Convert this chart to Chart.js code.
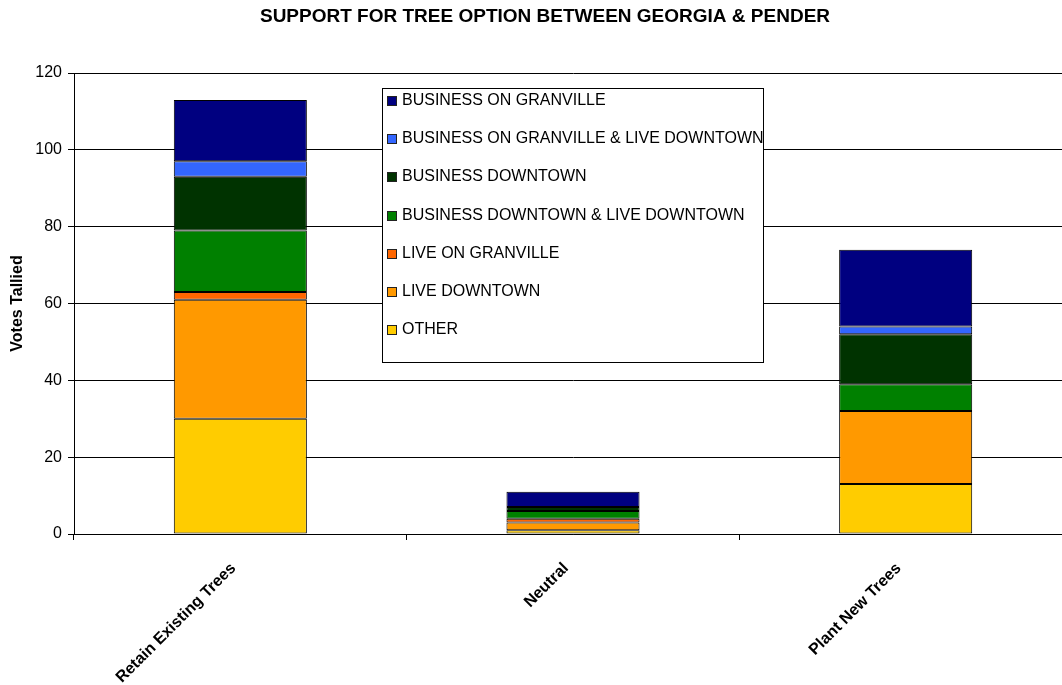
<!DOCTYPE html>
<html>
<head>
<meta charset="utf-8">
<script src="https://cdn.jsdelivr.net/npm/chart.js@4/dist/chart.umd.min.js"></script>
<style>
  html, body { margin: 0; padding: 0; background: #fff; overflow: hidden; }
  #wrap { width: 1062px; height: 685px; overflow: hidden; }
</style>
</head>
<body>
<div id="wrap"><canvas id="treeChart" width="1072" height="685"></canvas></div>
<script>
// =========================
// TREE OPTION SUPPORT - STACKED BARS
// =========================

var chartTitle = "SUPPORT FOR TREE OPTION BETWEEN GEORGIA & PENDER";
var options = ["Retain Existing Trees", "Neutral", "Plant New Trees"];
var yTicks = [0, 20, 40, 60, 80, 100, 120];

// stacked from the bottom up
var other = [30, 1, 13];
var liveDowntown = [31, 2, 19];
var liveOnGranville = [2, 1, 0];
var businessDowntownLiveDowntown = [16, 2, 7];
var businessDowntown = [14, 1, 13];
var businessGranvilleLiveDowntown = [4, 0, 2];
var businessOnGranville = [16, 4, 20];

var groupNames = [
  "OTHER",
  "LIVE DOWNTOWN",
  "LIVE ON GRANVILLE",
  "BUSINESS DOWNTOWN & LIVE DOWNTOWN",
  "BUSINESS DOWNTOWN",
  "BUSINESS ON GRANVILLE & LIVE DOWNTOWN",
  "BUSINESS ON GRANVILLE"
];
var groupValues = [
  other,
  liveDowntown,
  liveOnGranville,
  businessDowntownLiveDowntown,
  businessDowntown,
  businessGranvilleLiveDowntown,
  businessOnGranville
];
var groupColors = ["#FFCC00", "#FF9900", "#FF6600", "#008000", "#003300", "#3366FF", "#000080"];

var FONT = "Arial, 'Liberation Sans', sans-serif";

var datasets = groupNames.map(function (name, i) {
  return {
    label: name,
    data: groupValues[i],
    backgroundColor: groupColors[i],
    borderColor: "#000",
    borderWidth: 1,
    borderSkipped: false,
    barPercentage: 0.4,
    categoryPercentage: 1
  };
});

// title drawn by hand so it can sit a bit right of the canvas centre
var topTitle = {
  id: "topTitle",
  afterDraw: function (chart) {
    var ctx = chart.ctx;
    ctx.save();
    ctx.font = "bold 19px " + FONT;
    ctx.fillStyle = "#000";
    ctx.textAlign = "center";
    ctx.textBaseline = "middle";
    ctx.fillText(chartTitle, 545, 17);
    ctx.restore();
  }
};

// boxed legend sitting inside the plot area, top series listed first
var boxLegend = {
  id: "boxLegend",
  afterDatasetsDraw: function (chart) {
    var ctx = chart.ctx;
    var left = 382, top = 88, w = 381, h = 274;
    ctx.save();
    ctx.fillStyle = "#fff";
    ctx.fillRect(left, top, w, h);
    ctx.strokeStyle = "#000";
    ctx.lineWidth = 1;
    ctx.strokeRect(left + 0.5, top + 0.5, w, h);

    ctx.font = "16px " + FONT;
    ctx.textBaseline = "middle";
    var items = chart.data.datasets.slice().reverse();
    items.forEach(function (ds, i) {
      var cy = Math.round(top + 12 + i * 38.2);
      ctx.fillStyle = ds.backgroundColor;
      ctx.fillRect(left + 5.5, cy - 3.5, 9, 9);
      ctx.strokeStyle = "#222";
      ctx.strokeRect(left + 5.5, cy - 3.5, 9, 9);
      ctx.fillStyle = "#000";
      ctx.fillText(ds.label, left + 20, cy + 1);
    });
    ctx.restore();
  }
};

new Chart(document.getElementById("treeChart"), {
  type: "bar",
  data: {
    labels: options,
    datasets: datasets
  },
  options: {
    responsive: false,
    animation: false,
    devicePixelRatio: 1,
    layout: {
      padding: { top: 73, right: 0, bottom: 0, left: 0 }
    },
    plugins: {
      legend: { display: false },
      tooltip: { enabled: false },
      title: { display: false }
    },
    scales: {
      x: {
        stacked: true,
        grid: {
          drawOnChartArea: false,
          offset: true,
          color: "#000",
          tickLength: 6
        },
        border: { color: "#000" },
        ticks: {
          color: "#000",
          minRotation: 45,
          maxRotation: 45,
          padding: 19,
          labelOffset: -7,
          font: { family: FONT, size: 16, weight: "bold" }
        },
        afterFit: function (scale) {
          scale.height = 151;
        }
      },
      y: {
        stacked: true,
        min: 0,
        max: 120,
        afterBuildTicks: function (scale) {
          scale.ticks = yTicks.map(function (v) { return { value: v }; });
        },
        grid: {
          color: "#000",
          tickLength: 6
        },
        border: { color: "#000" },
        ticks: {
          color: "#000",
          padding: 6,
          font: { family: FONT, size: 16 }
        },
        title: {
          display: true,
          text: "Votes Tallied",
          color: "#000",
          font: { family: FONT, size: 16, weight: "bold" },
          padding: { top: 8, bottom: 0 }
        },
        afterFit: function (scale) {
          scale.width = 74;
        }
      }
    }
  },
  plugins: [boxLegend, topTitle]
});
</script>
</body>
</html>
